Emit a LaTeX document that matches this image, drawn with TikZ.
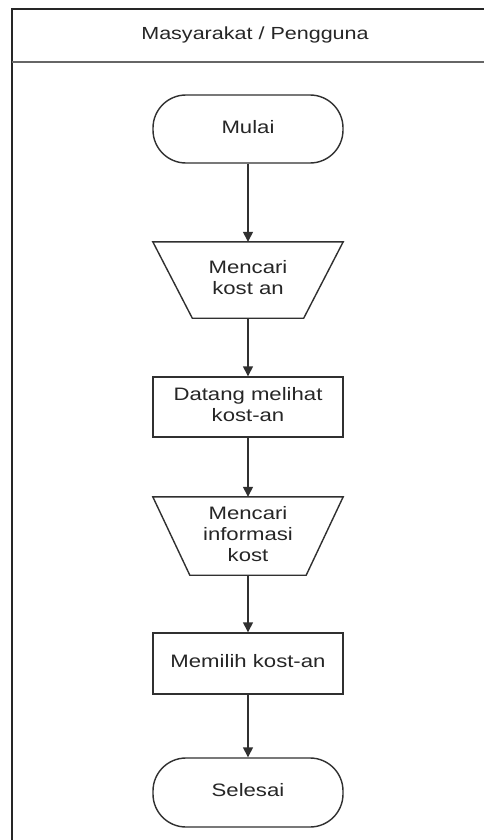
\documentclass[tikz,border=0pt]{standalone}
\usepackage{fontspec}
\usepackage{graphicx}
\setmainfont{Liberation Sans}
\usetikzlibrary{arrows.meta}
% wide, centred multi-line label text
\newcommand{\lbl}[1]{\scalebox{1.23}[1]{\begin{tabular}{@{}c@{}}#1\end{tabular}}}
\definecolor{ink}{HTML}{262626}
\definecolor{edge}{HTML}{303030}
\begin{document}
\begin{tikzpicture}[x=1pt,y=-1pt,
  every node/.style={font=\fontsize{18}{21}\selectfont, text=ink, inner sep=0pt},
  boxnode/.style={draw=edge, line width=1.4pt, minimum width=190pt},
  terminal/.style={boxnode, rounded corners=33pt},
  plainbox/.style={boxnode},
  manual/.style={minimum width=190pt},
  flow/.style={draw=edge, line width=1.4pt, -{Triangle[length=10pt,width=10pt]}}]
\useasboundingbox (0,0) rectangle (484,840);
\fill[white] (0,0) rectangle (484,840);

% swimlane frame and header
\draw[line width=2pt, black!85] (12,850) -- (12,9.5) -- (500,9.5);
\draw[line width=2pt, black!60] (12,62) -- (500,62);
\node[font=\fontsize{17.5}{21}\selectfont] (lane) at (255,35) {\lbl{Masyarakat / Pengguna}};

% flow steps
\node[terminal, minimum height=68pt] (start) at (248,129) {\lbl{Mulai}};
\node[manual, minimum height=76pt] (m1) at (248,280) {\lbl{Mencari\\kost an}};
\node[plainbox, minimum height=60pt] (b1) at (248,407) {\lbl{Datang melihat\\kost-an}};
\node[manual, minimum height=78pt] (m2) at (248,536) {\lbl{Mencari\\informasi\\kost}};
\node[plainbox, minimum height=61pt] (b2) at (248,663.5) {\lbl{Memilih kost-an}};
\node[terminal, minimum height=69pt] (stop) at (248,792.5) {\lbl{Selesai}};

% manual-input trapezoids
\draw[edge, line width=1.4pt] (m1.north west) -- (m1.north east)
  -- ([xshift=-39.5pt]m1.south east) -- ([xshift=39.5pt]m1.south west) -- cycle;
\draw[edge, line width=1.4pt] (m2.north west) -- (m2.north east)
  -- ([xshift=-37pt]m2.south east) -- ([xshift=37pt]m2.south west) -- cycle;

% connectors
\draw[flow] (start) -- (m1);
\draw[flow] (m1) -- (b1);
\draw[flow] (b1) -- (m2);
\draw[flow] (m2) -- (b2);
\draw[flow] (b2) -- (stop);
\end{tikzpicture}
\end{document}
